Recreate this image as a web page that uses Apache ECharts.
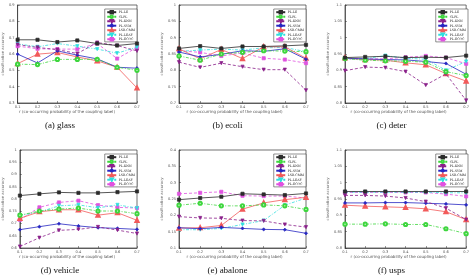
<!DOCTYPE html>
<html><head><meta charset="utf-8">
<script src="https://cdn.jsdelivr.net/npm/echarts@6/dist/echarts.min.js"></script>
<style>html,body{margin:0;padding:0;background:#fff}#c{width:472px;height:276px}</style>
</head><body><div id="c"></div>
<script>
const rValues = ['0.1','0.2','0.3','0.4','0.5','0.6','0.7'];
const methods = ['PL-LE','CLPL','PL-KNN','PL-SVM','LSB-CMM','PL-LEAF','PL-ECOC'];
const captions = ['(a) glass','(b) ecoli','(c) deter','(d) vehicle','(e) abalone','(f) usps'];
const xAxisTitle = 'r (co-occurring probability of the coupling label)';
const yAxisTitle = 'classification accuracy';

// each row follows the order of `methods`
const glassAcc = [
  [0.687,0.687,0.673,0.683,0.664,0.652,0.664],
  [0.538,0.535,0.567,0.567,0.568,0.519,0.500],
  [0.658,0.640,0.627,0.603,0.670,0.652,0.619],
  [0.599,0.545,0.619,0.593,0.570,0.519,0.513],
  [0.541,0.599,0.609,0.582,0.558,0.519,0.392],
  [0.662,0.644,0.664,0.648,0.630,0.605,0.642],
  [0.648,0.632,0.630,0.630,0.664,0.572,0.640]
];
const ecoliAcc = [
  [0.867,0.874,0.867,0.873,0.873,0.875,0.878],
  [0.844,0.831,0.850,0.855,0.860,0.859,0.857],
  [0.825,0.809,0.822,0.811,0.802,0.802,0.739],
  [0.856,0.841,0.849,0.860,0.858,0.866,0.834],
  [0.866,0.835,0.864,0.836,0.872,0.872,0.837],
  [0.858,0.862,0.865,0.862,0.869,0.870,0.857],
  [0.860,0.855,0.844,0.853,0.837,0.833,0.822]
];
const deterAcc = [
  [0.939,0.941,0.943,0.939,0.940,0.939,0.945],
  [0.936,0.931,0.929,0.928,0.925,0.896,0.884],
  [0.899,0.910,0.908,0.896,0.855,0.889,0.808],
  [0.937,0.935,0.933,0.932,0.927,0.921,0.888],
  [0.938,0.933,0.931,0.923,0.917,0.890,0.867],
  [0.935,0.936,0.945,0.937,0.934,0.900,0.927],
  [0.935,0.935,0.935,0.940,0.944,0.939,0.920]
];
const vehicleAcc = [
  [0.814,0.821,0.827,0.825,0.825,0.828,0.831],
  [0.734,0.751,0.759,0.763,0.751,0.751,0.740],
  [0.606,0.642,0.672,0.676,0.686,0.673,0.659],
  [0.675,0.687,0.699,0.690,0.683,0.680,0.676],
  [0.721,0.748,0.756,0.756,0.734,0.744,0.713],
  [0.733,0.747,0.772,0.776,0.764,0.776,0.763],
  [0.715,0.766,0.786,0.793,0.775,0.766,0.763]
];
const abaloneAcc = [
  [0.248,0.253,0.257,0.266,0.264,0.262,0.267],
  [0.231,0.237,0.229,0.229,0.232,0.229,0.218],
  [0.196,0.192,0.191,0.184,0.183,0.172,0.164],
  [0.162,0.159,0.163,0.160,0.157,0.156,0.145],
  [0.161,0.162,0.169,0.219,0.238,0.248,0.255],
  [0.156,0.156,0.160,0.172,0.184,0.231,0.253],
  [0.266,0.269,0.272,0.260,0.259,0.259,0.253]
];
const uspsAcc = [
  [0.973,0.973,0.973,0.973,0.973,0.973,0.973],
  [0.873,0.873,0.874,0.872,0.872,0.859,0.844],
  [0.961,0.961,0.959,0.953,0.942,0.922,0.887],
  [0.938,0.938,0.939,0.939,0.937,0.935,0.932],
  [0.931,0.928,0.926,0.924,0.920,0.911,0.887],
  [0.971,0.971,0.971,0.971,0.971,0.969,0.969],
  [0.970,0.970,0.970,0.970,0.970,0.965,0.958]
];
const panelData = [glassAcc, ecoliAcc, deterAcc, vehicleAcc, abaloneAcc, uspsAcc];
const yMin = [0.3, 0.7, 0.8, 0.6, 0.1, 0.8];
const yMax = [0.9, 1.0, 1.1, 1.0, 0.4, 1.1];
const yStep = [0.1, 0.05, 0.05, 0.05, 0.05, 0.05];

const colors = ['#2b2b2b','#3ed63e','#8a1f8a','#2626c2','#f25a5a','#2fdede','#e052e0'];
const dashes = ['solid',[3,1.5,1,1.5],[3,2],'solid','solid',[3,1.5,1,1.5],[3,2]];
const symbols = ['rect','emptyCircle','triangle','diamond','emptyTriangle','triangle','rect'];
const symRot = [0,0,180,0,0,180,0];

const colLeft = [13, 179, 345];
const colWidth = [124, 127, 123];
const rowTop = [5, 150];
const plotH = 98;

const grids = [], xAxes = [], yAxes = [], series = [], legends = [], graphics = [];
for (let p = 0; p < 6; p++) {
  const c = p % 3, r = Math.floor(p / 3);
  const L = colLeft[c], W = colWidth[c], T = rowTop[r];
  grids.push({left: L, top: T, width: W, height: plotH, show: true, borderColor: '#333', borderWidth: 0.7, backgroundColor: '#fff'});
  xAxes.push({
    type: 'category', gridIndex: p, data: rValues, boundaryGap: false,
    axisLine: {lineStyle: {color: '#333', width: 0.7}},
    axisTick: {inside: true, length: 2, lineStyle: {color: '#333', width: 0.5}},
    axisLabel: {fontSize: 3.6, color: '#555', margin: 2, fontFamily: 'DejaVu Sans'},
    splitLine: {show: false}
  });
  yAxes.push({
    type: 'value', gridIndex: p, min: yMin[p], max: yMax[p], interval: yStep[p],
    name: yAxisTitle, nameLocation: 'middle', nameGap: 9,
    nameTextStyle: {fontSize: 3.8, color: '#666', fontFamily: 'DejaVu Sans'},
    axisLine: {show: true, lineStyle: {color: '#333', width: 0.7}},
    axisTick: {show: true, inside: true, length: 2, lineStyle: {color: '#333', width: 0.5}},
    axisLabel: {fontSize: 3.6, color: '#555', margin: 3, fontFamily: 'DejaVu Sans'},
    splitLine: {show: false}
  });
  for (let m = 0; m < methods.length; m++) {
    series.push({
      type: 'line', name: methods[m], xAxisIndex: p, yAxisIndex: p,
      data: panelData[p][m],
      symbol: symbols[m], symbolRotate: symRot[m], symbolSize: 3.2,
      lineStyle: {color: colors[m], width: 0.8, type: dashes[m]},
      itemStyle: {color: colors[m], borderColor: colors[m], borderWidth: 0.7},
      animation: false, z: 10 - m
    });
  }
  legends.push({
    data: methods, orient: 'vertical', right: 472 - (L + W), top: T + 4,
    backgroundColor: '#fff', borderColor: '#222', borderWidth: 0.5,
    padding: [1, 2, 0.5, 1.5], itemGap: 0.1, itemWidth: 9, itemHeight: 3,
    textStyle: {fontSize: 3.1, lineHeight: 3.4, color: '#222', fontFamily: 'DejaVu Serif', padding: [0,0,0,-2.5]},
    selectedMode: false
  });
  graphics.push({
    type: 'text',
    style: {text: xAxisTitle, fontSize: 4, fill: '#555', fontFamily: 'DejaVu Sans', textAlign: 'center', textVerticalAlign: 'middle', x: L + W / 2 - 8, y: T + plotH + 9}
  });
  graphics.push({
    type: 'text',
    style: {text: captions[p], fontSize: 9, fill: '#111', fontFamily: 'Liberation Serif', textAlign: 'center', textVerticalAlign: 'middle', x: L + W / 2 - 15, y: T + plotH + 23}
  });
}

const chart = echarts.init(document.getElementById('c'), null, {renderer: 'canvas'});
chart.setOption({
  backgroundColor: '#fff', animation: false,
  grid: grids, xAxis: xAxes, yAxis: yAxes, series: series, legend: legends, graphic: graphics
});
</script></body></html>
